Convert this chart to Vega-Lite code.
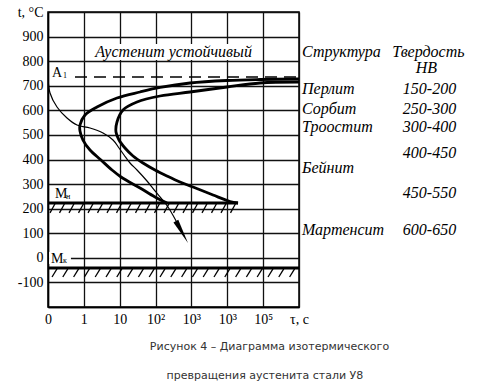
{
  "$schema": "https://vega.github.io/schema/vega-lite/v6.json",
  "width": 251,
  "height": 295,
  "autosize": {"type": "none"},
  "padding": {"left": 48, "top": 12, "right": 179, "bottom": 82},
  "background": "white",
  "config": {
    "view": {"stroke": "black", "strokeWidth": 1.5},
    "axis": {"gridColor": "#111", "gridWidth": 1.3, "gridOpacity": 1, "domainColor": "black", "domainWidth": 1.5, "ticks": false, "labelFont": "Liberation Serif", "labelFontSize": 14, "labelColor": "black", "labelOverlap": false, "labelFlush": false, "labelBound": false, "title": null}
  },
  "datasets": {
    "bg": [
      {"k": 1.171, "k2": 5.829, "t": 870, "t2": 805},
      {"k": 0.03, "k2": 0.64, "t": 24, "t2": -25}
    ],
    "a1": [{"k": 0.753, "k2": 7, "t": 735.6}],
    "mlines": [
      {"k": 0, "k2": 5.3, "t": 223},
      {"k": 0, "k2": 7, "t": -41}
    ],
    "hatch": [
      {"k": 0.056, "k2": 0.195, "t": 183, "t2": 220},
      {"k": 0.321, "k2": 0.460, "t": 183, "t2": 220},
      {"k": 0.586, "k2": 0.725, "t": 183, "t2": 220},
      {"k": 0.851, "k2": 0.990, "t": 183, "t2": 220},
      {"k": 1.116, "k2": 1.255, "t": 183, "t2": 220},
      {"k": 1.380, "k2": 1.519, "t": 183, "t2": 220},
      {"k": 1.645, "k2": 1.784, "t": 183, "t2": 220},
      {"k": 1.910, "k2": 2.049, "t": 183, "t2": 220},
      {"k": 2.175, "k2": 2.314, "t": 183, "t2": 220},
      {"k": 2.440, "k2": 2.579, "t": 183, "t2": 220},
      {"k": 2.705, "k2": 2.844, "t": 183, "t2": 220},
      {"k": 2.970, "k2": 3.109, "t": 183, "t2": 220},
      {"k": 3.235, "k2": 3.374, "t": 183, "t2": 220},
      {"k": 3.500, "k2": 3.639, "t": 183, "t2": 220},
      {"k": 3.765, "k2": 3.904, "t": 183, "t2": 220},
      {"k": 4.030, "k2": 4.169, "t": 183, "t2": 220},
      {"k": 4.295, "k2": 4.434, "t": 183, "t2": 220},
      {"k": 4.560, "k2": 4.699, "t": 183, "t2": 220},
      {"k": 4.825, "k2": 4.964, "t": 183, "t2": 220},
      {"k": 5.090, "k2": 5.229, "t": 183, "t2": 220},
      {"k": 0.112, "k2": 0.251, "t": -78, "t2": -45},
      {"k": 0.413, "k2": 0.552, "t": -78, "t2": -45},
      {"k": 0.714, "k2": 0.853, "t": -78, "t2": -45},
      {"k": 1.015, "k2": 1.154, "t": -78, "t2": -45},
      {"k": 1.316, "k2": 1.455, "t": -78, "t2": -45},
      {"k": 1.618, "k2": 1.757, "t": -78, "t2": -45},
      {"k": 1.919, "k2": 2.058, "t": -78, "t2": -45},
      {"k": 2.220, "k2": 2.359, "t": -78, "t2": -45},
      {"k": 2.521, "k2": 2.660, "t": -78, "t2": -45},
      {"k": 2.822, "k2": 2.961, "t": -78, "t2": -45},
      {"k": 3.123, "k2": 3.262, "t": -78, "t2": -45},
      {"k": 3.424, "k2": 3.563, "t": -78, "t2": -45},
      {"k": 3.726, "k2": 3.865, "t": -78, "t2": -45},
      {"k": 4.027, "k2": 4.166, "t": -78, "t2": -45},
      {"k": 4.328, "k2": 4.467, "t": -78, "t2": -45},
      {"k": 4.629, "k2": 4.768, "t": -78, "t2": -45},
      {"k": 4.930, "k2": 5.069, "t": -78, "t2": -45},
      {"k": 5.232, "k2": 5.371, "t": -78, "t2": -45},
      {"k": 5.533, "k2": 5.672, "t": -78, "t2": -45},
      {"k": 5.834, "k2": 5.973, "t": -78, "t2": -45},
      {"k": 6.135, "k2": 6.274, "t": -78, "t2": -45},
      {"k": 6.436, "k2": 6.575, "t": -78, "t2": -45},
      {"k": 6.738, "k2": 6.877, "t": -78, "t2": -45}
    ],
    "thick": [
      {"s": "start", "i": 0, "k": 7.0, "t": 727.5},
      {"s": "start", "i": 1, "k": 5.912, "t": 725.4},
      {"s": "start", "i": 2, "k": 4.992, "t": 721.4},
      {"s": "start", "i": 3, "k": 3.960, "t": 711.2},
      {"s": "start", "i": 4, "k": 3.124, "t": 692.9},
      {"s": "start", "i": 5, "k": 2.566, "t": 674.6},
      {"s": "start", "i": 6, "k": 1.924, "t": 650.2},
      {"s": "start", "i": 7, "k": 1.367, "t": 613.6},
      {"s": "start", "i": 8, "k": 1.032, "t": 581.0},
      {"s": "start", "i": 9, "k": 0.892, "t": 540.3},
      {"s": "start", "i": 10, "k": 0.892, "t": 515.9},
      {"s": "start", "i": 11, "k": 0.976, "t": 479.3},
      {"s": "start", "i": 12, "k": 1.171, "t": 438.6},
      {"s": "start", "i": 13, "k": 1.478, "t": 397.9},
      {"s": "start", "i": 14, "k": 1.785, "t": 357.3},
      {"s": "start", "i": 15, "k": 2.036, "t": 328.8},
      {"s": "start", "i": 16, "k": 2.566, "t": 284.1},
      {"s": "start", "i": 17, "k": 2.984, "t": 247.5},
      {"s": "start", "i": 18, "k": 3.319, "t": 223.0},
      {"s": "end", "i": 0, "k": 7.0, "t": 715.3},
      {"s": "end", "i": 1, "k": 5.912, "t": 711.2},
      {"s": "end", "i": 2, "k": 4.992, "t": 694.9},
      {"s": "end", "i": 3, "k": 3.960, "t": 674.6},
      {"s": "end", "i": 4, "k": 3.124, "t": 658.3},
      {"s": "end", "i": 5, "k": 2.482, "t": 633.9},
      {"s": "end", "i": 6, "k": 2.092, "t": 601.4},
      {"s": "end", "i": 7, "k": 1.924, "t": 552.5},
      {"s": "end", "i": 8, "k": 1.896, "t": 511.9},
      {"s": "end", "i": 9, "k": 1.980, "t": 479.3},
      {"s": "end", "i": 10, "k": 2.147, "t": 446.8},
      {"s": "end", "i": 11, "k": 2.371, "t": 414.2},
      {"s": "end", "i": 12, "k": 2.649, "t": 385.8},
      {"s": "end", "i": 13, "k": 2.984, "t": 357.3},
      {"s": "end", "i": 14, "k": 3.319, "t": 332.9},
      {"s": "end", "i": 15, "k": 3.681, "t": 308.5},
      {"s": "end", "i": 16, "k": 4.044, "t": 288.1},
      {"s": "end", "i": 17, "k": 4.602, "t": 255.6},
      {"s": "end", "i": 18, "k": 5.076, "t": 229.2},
      {"s": "end", "i": 19, "k": 5.299, "t": 223.0}
    ],
    "cooling": [
      {"i": 0, "k": 0.0, "t": 735.6},
      {"i": 1, "k": 0.056, "t": 670.5},
      {"i": 2, "k": 0.251, "t": 613.6},
      {"i": 3, "k": 0.530, "t": 568.8},
      {"i": 4, "k": 0.809, "t": 540.3},
      {"i": 5, "k": 1.171, "t": 528.1},
      {"i": 6, "k": 1.534, "t": 507.8},
      {"i": 7, "k": 1.813, "t": 479.3},
      {"i": 8, "k": 1.980, "t": 446.8},
      {"i": 9, "k": 2.120, "t": 418.3},
      {"i": 10, "k": 2.287, "t": 385.8},
      {"i": 11, "k": 2.482, "t": 357.3},
      {"i": 12, "k": 2.761, "t": 312.5},
      {"i": 13, "k": 2.984, "t": 271.9},
      {"i": 14, "k": 3.124, "t": 247.5},
      {"i": 15, "k": 3.347, "t": 206.8},
      {"i": 16, "k": 3.793, "t": 88.7}
    ],
    "arrow": [{"k": 3.735, "t": 105.1}],
    "austenite": [{"k": 3.5, "t": 837, "label": "Аустенит устойчивый"}],
    "tableLeft": [
      {"k": 7.084, "t": 837, "label": "Структура"},
      {"k": 7.084, "t": 685, "label": "Перлит"},
      {"k": 7.084, "t": 605, "label": "Сорбит"},
      {"k": 7.084, "t": 532, "label": "Троостит"},
      {"k": 7.084, "t": 365, "label": "Бейнит"},
      {"k": 7.084, "t": 113, "label": "Мартенсит"}
    ],
    "tableRight": [
      {"k": 10.61, "t": 837, "label": "Твердость"},
      {"k": 10.55, "t": 772, "label": "НВ"},
      {"k": 10.64, "t": 685, "label": "150-200"},
      {"k": 10.64, "t": 605, "label": "250-300"},
      {"k": 10.64, "t": 532, "label": "300-400"},
      {"k": 10.64, "t": 426, "label": "400-450"},
      {"k": 10.64, "t": 264, "label": "450-550"},
      {"k": 10.64, "t": 113, "label": "600-650"}
    ],
    "bigLetters": [
      {"k": 0.112, "t": 736, "label": "A"},
      {"k": 0.195, "t": 243, "label": "M"},
      {"k": 0.084, "t": -21, "label": "M"}
    ],
    "subLetters": [
      {"k": 0.42, "t": 731, "label": "1"},
      {"k": 0.50, "t": 241, "label": "н"},
      {"k": 0.42, "t": -23, "label": "к"}
    ],
    "caption": [
      {"k": 6.177, "t": -363, "label": "Рисунок 4 – Диаграмма изотермического"},
      {"k": 6.05, "t": -479, "label": "превращения аустенита стали У8"}
    ]
  },
  "encoding": {
    "x": {"field": "k", "type": "quantitative", "scale": {"domain": [0, 7], "nice": false, "zero": false},
      "axis": {"values": [0, 1, 2, 3, 4, 5, 6, 7], "grid": true, "labelPadding": 5,
        "labelExpr": "['0','1','10','10²','10³','10³','10⁵','τ, с'][datum.value]"}},
    "y": {"field": "t", "type": "quantitative", "scale": {"domain": [-200, 1000], "nice": false, "zero": false},
      "axis": {"values": [-200, -100, 0, 100, 200, 300, 400, 500, 600, 700, 800, 900, 1000], "grid": true, "labelPadding": 5,
        "labelExpr": "datum.value == 1000 ? 't, °C' : (datum.value == -200 ? '' : '' + datum.value)"}}
  },
  "layer": [
    {"data": {"name": "bg"}, "mark": {"type": "rect", "color": "white"},
      "encoding": {"x2": {"field": "k2"}, "y2": {"field": "t2"}}},
    {"data": {"name": "a1"}, "mark": {"type": "rule", "color": "black", "strokeWidth": 1.4, "strokeDash": [12, 7]},
      "encoding": {"x2": {"field": "k2"}}},
    {"data": {"name": "mlines"}, "mark": {"type": "rule", "color": "black", "strokeWidth": 3},
      "encoding": {"x2": {"field": "k2"}}},
    {"data": {"name": "hatch"}, "mark": {"type": "rule", "color": "black", "strokeWidth": 1.3},
      "encoding": {"x2": {"field": "k2"}, "y2": {"field": "t2"}}},
    {"data": {"name": "cooling"}, "mark": {"type": "line", "color": "black", "strokeWidth": 1.2, "interpolate": "catmull-rom", "clip": true},
      "encoding": {"order": {"field": "i", "type": "quantitative"}}},
    {"data": {"name": "thick"}, "mark": {"type": "line", "color": "black", "strokeWidth": 2.8, "interpolate": "catmull-rom", "clip": true},
      "encoding": {"detail": {"field": "s"}, "order": {"field": "i", "type": "quantitative"}}},
    {"data": {"name": "arrow"}, "mark": {"type": "point", "shape": "M-0.22,-1L0.22,-1L0,1Z", "filled": true, "color": "black", "opacity": 1, "size": 625, "angle": 331}},
    {"data": {"name": "austenite"}, "mark": {"type": "text", "font": "Liberation Serif", "fontStyle": "italic", "fontSize": 16, "color": "black", "align": "center", "baseline": "middle"},
      "encoding": {"text": {"field": "label"}}},
    {"data": {"name": "tableLeft"}, "mark": {"type": "text", "font": "Liberation Serif", "fontStyle": "italic", "fontSize": 16, "color": "black", "align": "left", "baseline": "middle"},
      "encoding": {"text": {"field": "label"}}},
    {"data": {"name": "tableRight"}, "mark": {"type": "text", "font": "Liberation Serif", "fontStyle": "italic", "fontSize": 16, "color": "black", "align": "center", "baseline": "middle"},
      "encoding": {"text": {"field": "label"}}},
    {"data": {"name": "bigLetters"}, "mark": {"type": "text", "font": "Liberation Serif", "fontSize": 14, "color": "black", "align": "left", "baseline": "alphabetic"},
      "encoding": {"text": {"field": "label"}}},
    {"data": {"name": "subLetters"}, "mark": {"type": "text", "font": "Liberation Serif", "fontSize": 8, "color": "black", "align": "left", "baseline": "alphabetic"},
      "encoding": {"text": {"field": "label"}}},
    {"data": {"name": "caption"}, "mark": {"type": "text", "font": "DejaVu Sans", "fontSize": 11, "color": "#333", "align": "center", "baseline": "middle"},
      "encoding": {"text": {"field": "label"}}}
  ]
}
